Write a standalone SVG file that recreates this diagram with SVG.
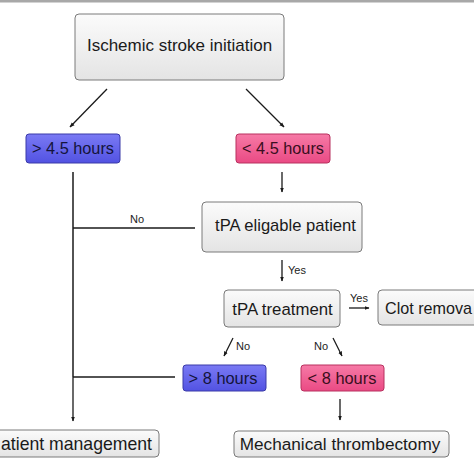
<svg xmlns="http://www.w3.org/2000/svg" width="474" height="474" viewBox="0 0 474 474">
<style>
.gray{fill:url(#gGray);stroke:#7a7a7a;stroke-width:1}
.blue{fill:url(#gBlue);stroke:#3a3aa8;stroke-width:1}
.pink{fill:url(#gPink);stroke:#b8305e;stroke-width:1}
.t{font-family:"Liberation Sans",Arial,sans-serif;text-anchor:middle;fill:#1a1a1a}
.ts{font-family:"Liberation Sans",Arial,sans-serif;text-anchor:start;fill:#1a1a1a}
.tb{fill:#14143c}
.tp{fill:#3a0e20}
.lbl{font-family:"Liberation Sans",Arial,sans-serif;font-size:11px;fill:#222}
.ln{stroke:#1a1a1a;stroke-width:1.5;fill:none}
.ar{stroke:#1a1a1a;stroke-width:1.3;fill:none;marker-end:url(#ah)}
</style>
<defs>
<linearGradient id="gGray" x1="0" y1="0" x2="0" y2="1"><stop offset="0" stop-color="#fbfbfb"/><stop offset="1" stop-color="#e4e4e4"/></linearGradient>
<linearGradient id="gBlue" x1="0" y1="0" x2="0" y2="1"><stop offset="0" stop-color="#7a7af4"/><stop offset="1" stop-color="#5252e2"/></linearGradient>
<linearGradient id="gPink" x1="0" y1="0" x2="0" y2="1"><stop offset="0" stop-color="#f67aa6"/><stop offset="1" stop-color="#ea4a84"/></linearGradient>
<marker id="ah" viewBox="0 0 10 10" refX="9" refY="5" markerWidth="5" markerHeight="5" orient="auto" markerUnits="userSpaceOnUse"><path d="M0,1 L10,5 L0,9 z" fill="#1a1a1a"/></marker>
</defs>
<rect x="0" y="0" width="474" height="474" fill="#ffffff"/>
<rect x="0" y="0" width="474" height="2.5" fill="#a8a8a8"/>

<g id="connectors">
<line class="ar" x1="107" y1="89" x2="70" y2="127"/>
<line class="ar" x1="246" y1="89" x2="284" y2="127"/>
<line class="ar" x1="282" y1="172" x2="282" y2="192"/>
<line class="ln" x1="73" y1="172" x2="73" y2="377"/>
<line class="ar" x1="73" y1="377" x2="73" y2="421"/>
<line class="ln" x1="73" y1="228" x2="195" y2="228"/>
<text class="lbl" x="130" y="223" font-size="12">No</text>
<line class="ar" x1="282" y1="260" x2="282" y2="281"/>
<text class="lbl" x="288" y="274">Yes</text>
<line class="ar" x1="349" y1="308" x2="369" y2="308"/>
<text class="lbl" x="350" y="302">Yes</text>
<line class="ar" x1="233" y1="338" x2="224" y2="356"/>
<text class="lbl" x="236" y="350">No</text>
<line class="ar" x1="333" y1="338" x2="342" y2="356"/>
<text class="lbl" x="314" y="350">No</text>
<line class="ln" x1="73" y1="377" x2="175" y2="377"/>
<line class="ar" x1="340" y1="399" x2="340" y2="420"/>
</g>

<g id="n-ischemic">
<rect class="gray" x="75" y="14" width="209" height="66" rx="4"/>
<text class="t" x="179.5" y="51" font-size="17">Ischemic stroke initiation</text>
</g>
<g id="n-gt45">
<rect class="blue" x="26" y="134" width="94" height="29" rx="3"/>
<text class="t tb" x="73" y="154" font-size="16.3">&gt; 4.5 hours</text>
</g>
<g id="n-lt45">
<rect class="pink" x="236" y="134" width="94" height="29" rx="3"/>
<text class="t tp" x="283" y="154" font-size="16.3">&lt; 4.5 hours</text>
</g>
<g id="n-eligible">
<rect class="gray" x="202" y="202" width="160" height="50" rx="4"/>
<text class="t" x="285.5" y="231" font-size="16.6">tPA eligable patient</text>
</g>
<g id="n-treatment">
<rect class="gray" x="224" y="290" width="116" height="37" rx="4"/>
<text class="t" x="282.5" y="315" font-size="16.8">tPA treatment</text>
</g>
<g id="n-clot">
<rect class="gray" x="378" y="290" width="110" height="35" rx="4"/>
<text class="ts" x="385" y="314" font-size="16.6" textLength="87" lengthAdjust="spacingAndGlyphs">Clot remova</text>
</g>
<g id="n-gt8">
<rect class="blue" x="183" y="365" width="83" height="26" rx="3"/>
<text class="t tb" x="223" y="384" font-size="16.4">&gt; 8 hours</text>
</g>
<g id="n-lt8">
<rect class="pink" x="301" y="365" width="83" height="26" rx="3"/>
<text class="t tp" x="342" y="384" font-size="16.4">&lt; 8 hours</text>
</g>
<g id="n-patient">
<rect class="gray" x="-20" y="430" width="179" height="27" rx="4"/>
<text class="ts" x="1" y="449.5" font-size="17.8" textLength="151" lengthAdjust="spacingAndGlyphs">atient management</text>
</g>
<g id="n-mech">
<rect class="gray" x="234" y="431" width="215" height="26" rx="4"/>
<text class="t" x="340" y="450" font-size="17.2">Mechanical thrombectomy</text>
</g>
</svg>
